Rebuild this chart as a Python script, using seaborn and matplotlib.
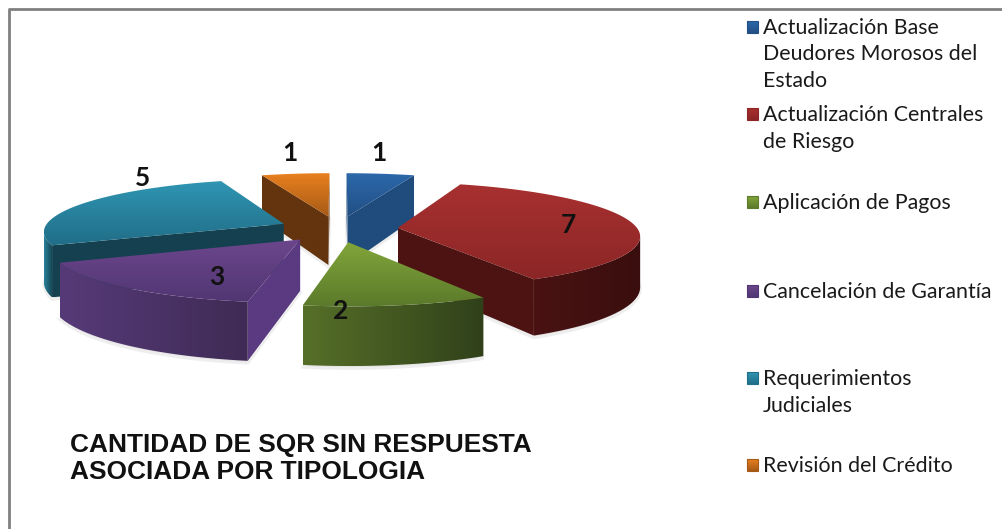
import numpy as np
import seaborn as sns
from matplotlib import pyplot as plt
from matplotlib.patches import Polygon, Rectangle
from matplotlib.path import Path

sns.set_theme(style="white")
plt.rcParams['font.family'] = ['Lato', 'DejaVu Sans']

categories = ["Actualización Base\nDeudores Morosos del\nEstado",
              "Actualización Centrales\nde Riesgo",
              "Aplicación de Pagos",
              "Cancelación de Garantía",
              "Requerimientos\nJudiciales",
              "Revisión del Crédito"]
values = [1, 7, 2, 3, 5, 1]

# light top, dark top, wall colour, rim at its left and right
top_light = ['#2c68aa', '#a83030', '#82a63a', '#6c468c', '#2f96b3', '#e8801f']
top_dark = ['#224f84', '#8c2626', '#5c7a2b', '#513673', '#216e88', '#a65a16']
wall_in = ['#1f4c7c', '#4d1313', '#5a7529', '#5a3a80', '#14404f', '#63340e']
rim_left = ['#1f4c7c', '#4a1212', '#566f28', '#563a78', '#2a8299', '#63340e']
rim_right = ['#1f4c7c', '#3a0e0e', '#30411a', '#3f2b55', '#14404f', '#63340e']
legend_y = [27, 114, 202, 291, 378, 465]
label_xy = [(379, 153), (568, 225), (341, 311), (217, 277), (143, 178), (290, 153)]

# projection of the pie, in pixels
cx, cy = 338, 229
rx, ry = 240, 52
persp = 0.13
explode = 0.25
depth = 50


def project(x, y, z=0):
    s = 1 / (1 + persp * y)
    return cx + rx * x * s, cy - ry * y * s + z * depth * s


def fill_grad(ax, pts, c1, c2, z, vertical=True):
    pts = np.array(pts)
    cmap = sns.blend_palette([c1, c2], 64, as_cmap=True)
    grad = np.linspace(0, 1, 64).reshape(-1, 1)
    if not vertical:
        grad = grad.T
    ext = (pts[:, 0].min(), pts[:, 0].max(), pts[:, 1].max(), pts[:, 1].min())
    im = ax.imshow(grad, cmap=cmap, extent=ext, aspect='auto', zorder=z, origin='upper')
    poly = Polygon(pts, closed=True, fc='none', ec='none', transform=ax.transData)
    ax.add_patch(poly)
    im.set_clip_path(poly)


def wall(p, q):
    return [project(*p), project(*q), project(*q, 1), project(*p, 1)]


fig = plt.figure(figsize=(10.03, 5.29), dpi=100)
ax = fig.add_axes([0, 0, 1, 1])

total = sum(values)
edges = np.cumsum([0] + values) / total * 2 * np.pi
slices = []
for i in range(len(values)):
    t0, t1 = edges[i], edges[i + 1]
    tm = (t0 + t1) / 2
    ox, oy = explode * np.sin(tm), explode * np.cos(tm)
    tt = np.linspace(t0, t1, 60)
    slices.append((oy + 0.35 * np.cos(tm), i, (ox, oy), tt))

# far slices first, near slices paint over them
z = 2
for _, i, apex, tt in sorted(slices, key=lambda s: -s[0]):
    arc = [(apex[0] + np.sin(t), apex[1] + np.cos(t)) for t in tt]
    top = [project(*apex)] + [project(*p) for p in arc]
    # soft shadow under the slice
    low = [project(*apex, 1.04)] + [project(*p, 1.04) for p in arc]
    ax.add_patch(Polygon(low, closed=True, fc='#e4e4e4', ec='#eeeeee', lw=2, zorder=z))
    z += 1
    # outer rim: going clockwise the part facing the viewer runs right to left on screen
    xs = [project(*p)[0] for p in arc]
    front = [p for k, p in enumerate(arc)
             if (k + 1 < len(arc) and xs[k + 1] < xs[k]) or (k > 0 and xs[k] < xs[k - 1])]
    if len(front) > 1:
        rim = [project(*p) for p in front] + [project(*p, 1) for p in front[::-1]]
        fill_grad(ax, rim, rim_left[i], rim_right[i], z, vertical=False)
        z += 1
    # straight walls, skipped when they sit behind the top face
    top_path = Path(top)
    for q in (arc[0], arc[-1]):
        a, b = project(*apex), project(*q)
        mid = ((a[0] + b[0]) / 2, (a[1] + b[1]) / 2 + 3)
        if not top_path.contains_point(mid):
            fill_grad(ax, wall(apex, q), wall_in[i], wall_in[i], z)
            z += 1
    fill_grad(ax, top, top_light[i], top_dark[i], z)
    z += 1

# data labels
for v, (x, y) in zip(values, label_xy):
    ax.text(x, y, str(v), fontsize=19, fontweight='bold', color='#111111', ha='center', va='center', zorder=200)

# title
ax.text(70, 445, "CANTIDAD DE SQR SIN RESPUESTA", family='Liberation Sans', fontweight='bold',
        fontsize=18.9, color='#111111', va='center', zorder=200)
ax.text(70, 472, "ASOCIADA POR TIPOLOGIA", family='Liberation Sans', fontweight='bold',
        fontsize=18.9, color='#111111', va='center', zorder=200)

# legend
for name, y, c1, c2 in zip(categories, legend_y, top_light, top_dark):
    fill_grad(ax, [(747, y - 6), (758, y - 6), (758, y + 6), (747, y + 6)], c1, c2, 200)
    ax.add_patch(Rectangle((747, y - 6), 11, 12, fc='none', ec=c2, lw=0.8, zorder=201))
    for j, line in enumerate(name.split('\n')):
        ax.text(763, y + 1 + j * 26.5, line, fontsize=15.4, color='#1a1a1a', va='center', zorder=200)

# frame
ax.plot([9, 9], [529, 9], color='#808080', lw=2, zorder=300, solid_capstyle='butt')
ax.plot([8, 1003], [9, 9], color='#808080', lw=2, zorder=300, solid_capstyle='butt')

ax.set_xlim(0, 1003)
ax.set_ylim(529, 0)
ax.axis('off')
plt.savefig('out.png', dpi=100)
